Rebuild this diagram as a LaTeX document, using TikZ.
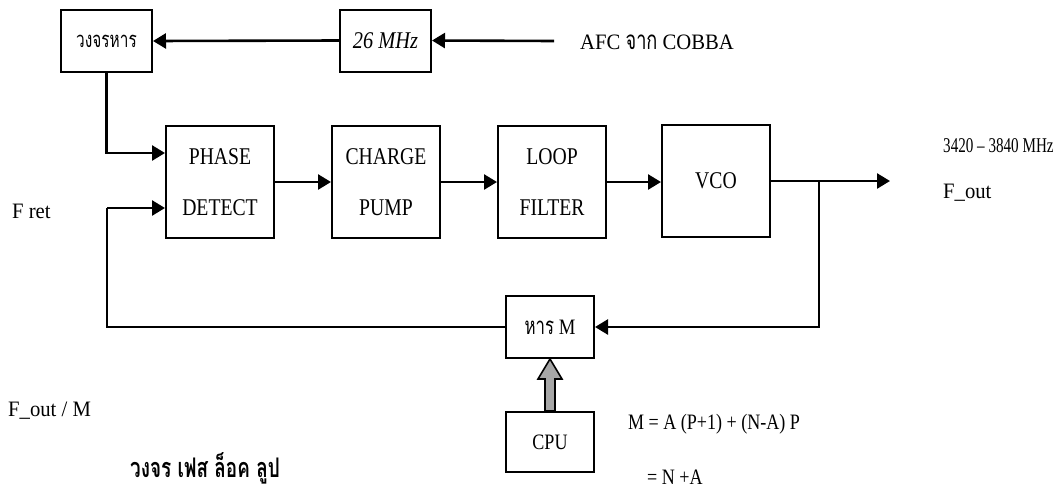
\documentclass[tikz,border=0pt]{standalone}
\usepackage{fontspec}
\setmainfont{Liberation Serif}[FakeStretch=0.85]
\newfontfamily\thaifont[Script=Thai,FakeStretch=0.7]{Loma}
\newfontfamily\narrowfont[FakeStretch=0.72]{Liberation Serif}
\newfontfamily\midfont[FakeStretch=0.82]{Liberation Serif}
\newfontfamily\widefont[FakeStretch=0.94]{Liberation Serif}
\usetikzlibrary{arrows.meta,calc}
\begin{document}
\begin{tikzpicture}[x=1pt,y=-1pt,
  blk/.style={draw,line width=2pt,minimum width=108pt,minimum height=112pt,inner sep=0pt,align=center,font=\midfont\fontsize{24}{51}\selectfont},
  sblk/.style={draw,line width=2pt,minimum width=91pt,minimum height=62pt,inner sep=0pt,align=center,font=\fontsize{22}{25}\selectfont},
  lbl/.style={anchor=west,inner sep=0pt,font=\widefont\fontsize{22}{26}\selectfont},
  conn/.style={line width=2.6pt,-{Triangle[length=13pt,width=15pt]}},
  wire/.style={line width=2.6pt}
]
\useasboundingbox (0,0) rectangle (1060,488);

% top row
\node[sblk,font=\thaifont\fontsize{22}{25}\selectfont] (div) at (106.5,41) {วงจรหาร};
\node[sblk,font=\fontsize{24}{25}\selectfont] (osc) at (385.5,40.5) {\textit{26 MHz}};
\coordinate (afc) at (554,41);
\node[lbl,font=\widefont\fontsize{22}{26}\selectfont] (afct) at (580,42) {AFC {\thaifont\fontsize{26}{26}\selectfont จาก} COBBA};

% main chain
\node[blk] (pd) at (220,182) {PHASE\\DETECT};
\node[blk] (cp) at (386,182) {CHARGE\\PUMP};
\node[blk] (lf) at (552,182) {LOOP\\FILTER};
\node[blk] (vco) at (716,181) {VCO};
\coordinate (out) at (890,181);
\coordinate (br) at (819,181);

% divider and cpu
\node[sblk,minimum width=88pt] (divm) at (550,327) {{\thaifont\fontsize{24}{25}\selectfont หาร} M};
\node[sblk,minimum width=88pt,minimum height=60pt,font=\midfont\fontsize{22}{25}\selectfont] (cpu) at (550,442) {CPU};

% connectors
\draw[conn] (afc) -- (osc.east);
\draw[conn] (osc.west) -- (div.east);
\draw[conn] (div.south) |- ($(pd.west)+(0,-29)$);
\draw[conn] (pd.east) -- (cp.west);
\draw[conn] (cp.east) -- (lf.west);
\draw[conn] (lf.east) -- (lf.east -| vco.west);
\draw[conn] (vco.east) -- (out);
\draw[conn] (br) |- (divm.east);
\draw[wire] (divm.west) -| (107,208);
\draw[conn] (107,208) -- ($(pd.west)+(0,26)$);

% fat arrow cpu -> divm
\filldraw[fill=gray!70,draw=black,line width=1.6pt]
  ($(cpu.north)+(-5,0)$) -- ($(divm.south)+(-5,20)$) -- ($(divm.south)+(-12,20)$)
  -- (divm.south) -- ($(divm.south)+(12,20)$) -- ($(divm.south)+(5,20)$)
  -- ($(cpu.north)+(5,0)$) -- cycle;

% labels
\node[lbl] (fret) at (12,211) {F ret};
\node[lbl,font=\narrowfont\fontsize{21}{26}\selectfont] (freq) at (943,146) {3420 – 3840 MHz};
\node[lbl] (fout) at (943,193) {F\_out};
\node[lbl] (foutm) at (8,411) {F\_out / M};
\node[lbl,font=\thaifont\bfseries\fontsize{27}{28}\selectfont] (title) at (130,468) {วงจร เฟส ล็อค ลูป};
\node[lbl,font=\midfont\fontsize{22}{26}\selectfont] (eq1) at (628,424) {M = A (P+1) + (N-A) P};
\node[lbl,font=\midfont\fontsize{22}{26}\selectfont] (eq2) at (647,477) {= N +A};
\end{tikzpicture}
\end{document}
